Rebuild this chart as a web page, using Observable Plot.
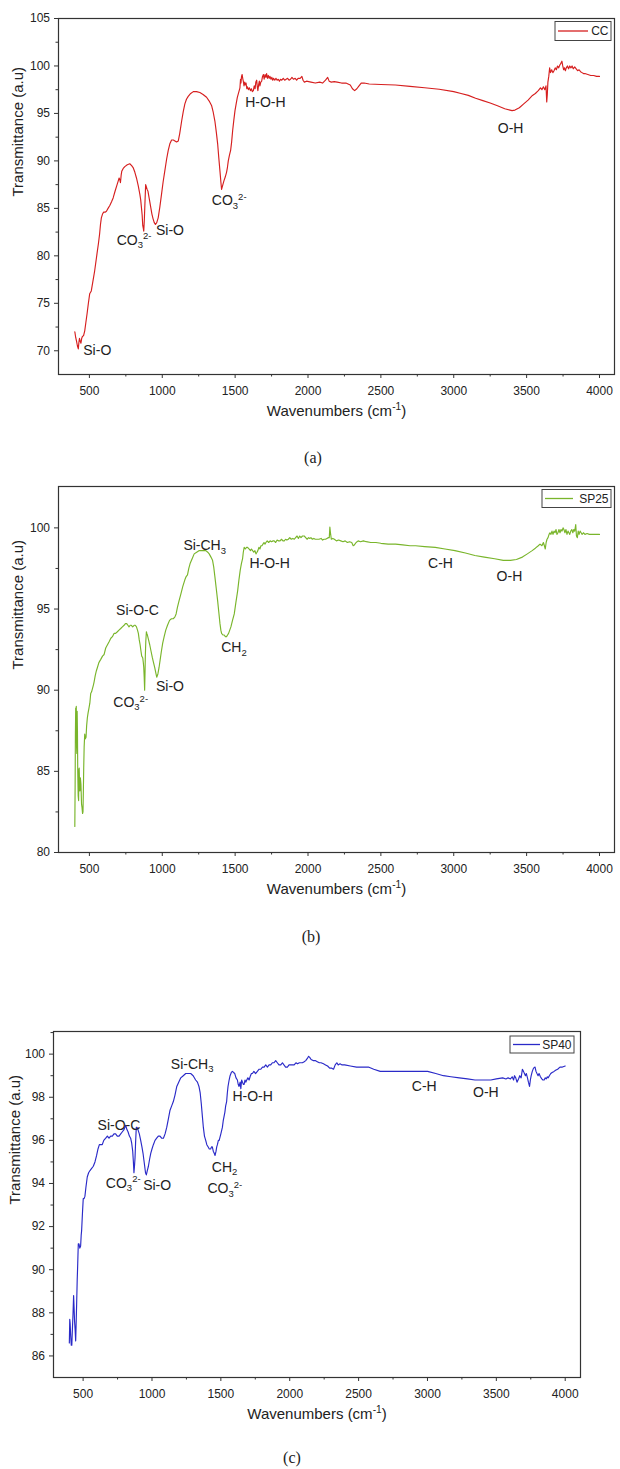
<!DOCTYPE html>
<html><head><meta charset="utf-8">
<script src="https://cdn.jsdelivr.net/npm/d3@7"></script>
<script src="https://cdn.jsdelivr.net/npm/@observablehq/plot@0.6"></script>
<style>
body{margin:0;background:#fff;}
#page{position:relative;width:620px;height:1469px;overflow:hidden;background:#fff;}
.panel{position:absolute;left:0;}
.cap{position:absolute;width:60px;text-align:center;font-family:"Liberation Serif","Times New Roman",serif;font-size:16px;line-height:16px;color:#222;}
</style></head><body><div id="page"></div>
<script>
// ---------- data ----------
const xMajor = [500,1000,1500,2000,2500,3000,3500,4000];
const xMinor = [750,1250,1750,2250,2750,3250,3750];

// (a) CC
const wnA = [400,406,412,418,424,428,432,437,442,447,452,460,468,476,484,493,502,513,524,536,552,562,570,576,582,590,598,608,617,628,640,652,663,676,690,698,704,709,713,718,722,732,743,760,777,790,800,812,823,835,846,852,857,862,866,870,873,877,881,886,890,896,902,911,921,929,937,945,953,962,972,983,995,1006,1018,1030,1041,1052,1064,1076,1087,1098,1110,1120,1133,1144,1155,1166,1178,1195,1213,1235,1258,1280,1304,1322,1339,1350,1361,1371,1380,1388,1396,1402,1407,1414,1423,1432,1441,1447,1453,1461,1469,1476,1483,1491,1499,1507,1515,1524,1533,1537,1540,1544,1548,1552,1556,1561,1566,1571,1575,1580,1585,1591,1598,1605,1612,1618,1625,1631,1637,1642,1648,1652,1656,1661,1666,1670,1676,1682,1688,1694,1699,1705,1711,1716,1722,1728,1734,1739,1746,1752,1758,1764,1772,1780,1788,1796,1804,1812,1820,1830,1840,1850,1860,1870,1880,1890,1900,1912,1922,1932,1946,1958,1966,1975,1990,2020,2050,2080,2100,2120,2135,2145,2160,2180,2200,2230,2260,2290,2305,2320,2335,2350,2365,2385,2420,2500,2600,2700,2800,2900,3000,3050,3100,3150,3200,3250,3300,3350,3400,3420,3450,3480,3510,3540,3560,3580,3595,3605,3615,3625,3633,3638,3642,3646,3652,3658,3664,3672,3680,3688,3696,3704,3712,3720,3728,3736,3742,3748,3754,3760,3766,3772,3780,3788,3796,3804,3812,3820,3830,3840,3850,3860,3870,3880,3890,3900,3920,3940,3960,3980,4000];
const tA = [72.0,71.4,71.0,70.5,70.2,70.9,71.3,71.0,70.8,71.3,71.5,71.6,72.1,73.0,73.9,75.0,76.0,76.3,77.3,78.4,80.2,81.3,82.3,83.3,84.0,84.4,84.6,84.6,84.7,85.0,85.3,85.7,86.1,86.8,87.5,87.9,88.2,88.0,87.7,88.5,88.9,89.2,89.4,89.6,89.7,89.5,89.3,88.8,88.2,87.4,86.5,85.9,85.1,84.3,83.2,82.9,82.6,83.8,85.5,87.5,87.3,87.0,86.8,86.0,85.1,84.4,83.9,83.5,83.3,83.5,84.0,85.1,86.5,87.8,89.0,90.2,91.1,91.8,92.2,92.2,92.1,92.0,92.1,92.9,94.2,95.2,96.0,96.5,96.8,97.1,97.3,97.3,97.2,97.0,96.7,96.3,95.8,95.1,94.2,93.0,91.8,90.3,88.9,87.8,87.0,87.4,87.9,88.3,88.8,89.3,90.0,90.6,91.1,92.0,93.2,94.3,95.3,96.0,96.7,97.2,97.7,98.6,98.2,98.9,99.1,98.7,98.4,97.9,98.3,98.0,98.2,97.6,97.8,97.5,97.7,97.4,97.6,97.3,97.4,97.9,97.6,98.3,98.5,97.8,97.4,98.0,98.4,97.9,98.3,98.4,98.9,99.1,98.6,99.1,98.8,99.2,98.7,99.0,98.7,98.9,98.6,98.8,98.5,98.7,98.5,98.7,98.5,98.6,98.4,98.6,98.5,98.7,98.5,98.6,98.7,98.5,98.6,98.8,98.6,98.7,98.5,98.7,98.7,98.9,98.5,98.3,98.4,98.3,98.2,98.3,98.2,98.5,98.8,98.4,98.3,98.35,98.3,98.2,98.2,98.0,97.6,97.4,97.6,97.9,98.2,98.2,98.1,98.05,98.0,97.85,97.7,97.55,97.3,97.1,96.9,96.6,96.35,96.1,95.8,95.5,95.3,95.35,95.6,96.0,96.4,96.9,97.1,97.4,97.7,97.5,97.8,97.5,97.9,96.2,97.0,98.3,98.9,99.8,99.3,99.6,99.3,99.5,99.8,99.6,100.0,99.8,100.1,100.3,100.5,100.0,99.6,99.8,99.5,99.8,100.0,99.7,100.0,99.8,100.0,99.7,99.9,99.7,99.5,99.6,99.4,99.3,99.2,99.2,99.1,99.0,99.0,98.9,98.9];

// (b) SP25
const wnB = [400,402,404,406,408,410,412,414,416,418,420,423,426,428,430,433,435,438,442,446,449,453,456,459,461,464,468,472,477,481,486,491,497,503,509,515,521,527,532,540,548,555,565,578,590,601,612,624,636,647,658,669,680,692,703,715,726,738,747,756,764,772,780,788,797,807,815,823,830,836,842,848,854,859,866,870,873,876,879,882,884,887,891,894,898,906,914,923,932,940,948,955,962,970,978,986,994,1003,1013,1024,1036,1050,1063,1075,1086,1095,1104,1115,1127,1141,1155,1164,1173,1182,1191,1205,1219,1236,1254,1276,1299,1312,1322,1334,1345,1353,1361,1370,1380,1388,1396,1402,1407,1416,1425,1433,1441,1448,1455,1463,1471,1482,1494,1505,1517,1526,1535,1543,1551,1556,1562,1570,1578,1585,1595,1605,1612,1620,1628,1636,1643,1650,1656,1663,1670,1677,1684,1691,1698,1705,1711,1720,1730,1740,1750,1760,1768,1778,1788,1798,1808,1818,1828,1837,1846,1855,1865,1875,1885,1896,1906,1915,1925,1934,1943,1952,1962,1974,1984,1994,2004,2012,2020,2030,2040,2050,2060,2075,2090,2100,2110,2120,2130,2140,2146,2150,2154,2160,2170,2181,2195,2210,2225,2240,2255,2270,2285,2300,2310,2318,2330,2344,2360,2380,2400,2430,2466,2500,2550,2601,2650,2700,2738,2800,2873,2940,3008,3080,3145,3210,3281,3340,3389,3430,3471,3505,3538,3560,3580,3592,3605,3615,3622,3628,3634,3640,3647,3654,3660,3667,3674,3681,3688,3695,3702,3708,3715,3722,3729,3736,3743,3750,3756,3763,3770,3777,3784,3790,3796,3803,3810,3817,3824,3830,3837,3842,3848,3854,3860,3867,3874,3881,3891,3900,3915,3930,3950,3975,4000];
const tB = [81.6,84.0,87.3,88.9,87.0,89.0,86.5,86.1,88.7,87.5,85.0,83.5,83.2,85.1,85.2,84.0,83.8,84.6,84.2,83.0,82.8,82.4,82.5,84.0,85.2,86.5,87.3,87.0,87.1,87.8,88.3,88.6,88.9,89.2,89.8,89.9,90.1,90.3,90.5,90.9,91.2,91.4,91.7,91.9,92.1,92.2,92.6,92.8,93.0,93.2,93.3,93.5,93.5,93.6,93.7,93.8,93.9,94.0,94.1,94.1,94.0,93.9,94.0,94.0,93.9,94.0,94.0,93.9,93.7,93.5,93.1,92.8,92.4,92.1,92.0,91.7,91.4,90.8,90.0,91.2,92.2,93.0,93.6,93.5,93.4,93.1,92.8,92.4,92.0,91.7,91.4,91.1,90.8,91.0,91.4,91.9,92.4,92.9,93.3,93.7,94.0,94.3,94.4,94.4,94.5,94.7,95.1,95.5,95.9,96.4,96.8,97.0,97.1,97.5,97.8,98.1,98.4,98.5,98.6,98.6,98.6,98.5,98.4,98.2,98.0,97.6,97.0,96.3,95.5,94.8,94.1,93.7,93.5,93.4,93.4,93.3,93.3,93.4,93.5,93.7,93.9,94.3,94.7,95.4,96.1,96.8,97.4,97.8,98.1,98.5,98.8,98.7,98.8,98.8,98.7,98.6,98.7,98.6,98.5,98.6,98.4,98.5,98.6,98.8,98.7,98.9,98.9,99.0,99.1,99.0,99.1,99.2,99.1,99.2,99.15,99.2,99.2,99.1,99.25,99.2,99.2,99.3,99.2,99.2,99.3,99.25,99.3,99.4,99.3,99.35,99.3,99.4,99.5,99.35,99.5,99.4,99.5,99.5,99.4,99.3,99.4,99.35,99.4,99.3,99.35,99.3,99.3,99.3,99.35,99.25,99.3,99.3,99.35,99.4,99.4,100.05,99.7,99.3,99.35,99.3,99.2,99.25,99.2,99.15,99.2,99.1,99.15,99.1,98.9,98.95,99.1,99.2,99.15,99.2,99.15,99.1,99.1,99.05,99.0,99.0,98.95,98.9,98.9,98.85,98.8,98.7,98.6,98.45,98.3,98.2,98.1,98.0,98.0,98.05,98.2,98.4,98.6,98.75,98.9,99.0,98.9,99.1,98.9,98.7,99.1,99.3,99.4,99.6,99.7,99.6,99.8,99.6,99.8,99.7,99.9,99.6,99.7,99.9,99.7,99.9,99.8,100.0,99.9,99.7,99.9,99.6,99.8,99.7,99.6,99.8,99.9,99.7,99.9,99.8,100.2,99.5,99.4,99.8,99.6,99.8,99.7,99.6,99.7,99.6,99.65,99.6,99.6,99.6,99.6];

// (c) SP40
const wnC = [400,403,406,410,414,418,422,427,431,434,438,442,446,449,453,457,461,465,470,476,482,486,489,495,501,507,513,520,530,540,550,562,574,586,598,608,618,628,639,650,664,676,688,700,712,724,736,748,761,773,785,797,809,818,826,836,845,852,860,865,869,873,877,881,886,892,898,908,918,927,935,941,947,953,959,966,974,982,991,1000,1010,1022,1034,1046,1058,1070,1083,1095,1107,1119,1131,1143,1155,1167,1180,1194,1209,1227,1245,1263,1281,1299,1317,1330,1341,1350,1358,1366,1373,1381,1390,1398,1407,1416,1426,1432,1438,1445,1452,1458,1465,1470,1475,1482,1488,1492,1500,1511,1517,1523,1529,1535,1542,1547,1552,1560,1567,1576,1584,1592,1601,1610,1620,1626,1632,1640,1645,1651,1657,1663,1669,1675,1681,1688,1696,1705,1715,1722,1729,1740,1752,1765,1778,1790,1802,1814,1826,1838,1850,1862,1874,1886,1898,1910,1922,1935,1947,1958,1970,1983,1995,2008,2020,2032,2045,2057,2070,2080,2092,2105,2116,2128,2137,2145,2155,2170,2185,2200,2215,2227,2245,2260,2275,2290,2305,2318,2330,2342,2352,2365,2380,2399,2440,2485,2530,2571,2610,2657,2700,2772,2850,2915,3001,3060,3116,3170,3231,3290,3345,3400,3460,3500,3546,3570,3585,3603,3615,3625,3632,3641,3650,3661,3670,3680,3689,3697,3704,3711,3718,3726,3733,3741,3747,3753,3761,3770,3781,3788,3795,3803,3810,3820,3830,3838,3847,3855,3862,3870,3876,3885,3895,3905,3919,3930,3945,3962,3980,4000];
const tC = [86.6,87.7,87.5,86.9,86.5,86.5,87.2,88.0,88.8,88.3,87.6,87.2,86.7,87.4,88.4,89.5,90.3,91.2,91.2,91.0,91.1,91.6,91.8,92.6,93.3,93.3,93.4,93.8,94.3,94.5,94.6,94.7,94.8,95.0,95.3,95.6,95.8,95.8,95.8,96.0,96.1,96.2,96.1,96.2,96.2,96.3,96.3,96.2,96.2,96.3,96.4,96.5,96.7,96.5,96.4,96.2,96.1,95.9,95.5,95.0,94.5,94.8,95.2,95.9,96.6,96.6,96.5,96.3,96.0,95.7,95.4,95.1,94.8,94.5,94.4,94.6,94.8,95.1,95.4,95.6,95.8,96.0,96.1,96.2,96.2,96.1,96.1,96.3,96.6,97.0,97.4,97.6,97.8,98.1,98.5,98.7,98.9,99.0,99.1,99.1,99.1,99.0,98.8,98.7,98.5,98.2,97.7,97.1,96.6,96.2,96.0,95.8,95.7,95.6,95.6,95.7,95.7,95.5,95.4,95.3,95.5,95.7,95.8,96.0,96.0,96.1,96.3,96.6,96.9,97.1,97.3,97.6,97.8,98.2,98.5,98.8,99.0,99.15,99.2,99.15,99.1,98.9,98.8,98.6,98.5,98.7,98.4,98.8,98.7,98.6,98.6,98.8,98.7,98.8,98.9,98.8,99.0,99.1,99.1,99.2,99.1,99.2,99.3,99.3,99.4,99.4,99.5,99.4,99.5,99.5,99.6,99.6,99.7,99.6,99.5,99.5,99.6,99.5,99.4,99.4,99.5,99.5,99.5,99.5,99.6,99.55,99.6,99.6,99.6,99.65,99.7,99.8,99.9,99.85,99.75,99.7,99.7,99.65,99.6,99.6,99.55,99.5,99.45,99.35,99.35,99.3,99.5,99.6,99.5,99.55,99.5,99.5,99.45,99.4,99.4,99.4,99.3,99.2,99.2,99.2,99.2,99.2,99.2,99.1,99.0,98.95,98.9,98.85,98.8,98.8,98.8,98.85,98.9,98.85,98.9,98.85,98.95,98.8,99.0,98.9,98.7,98.85,99.0,98.9,99.3,99.2,99.1,99.0,99.1,98.9,98.7,98.5,98.8,99.0,99.2,99.35,99.4,99.2,99.1,99.0,99.1,98.95,98.85,98.8,98.8,98.9,98.85,98.95,98.9,99.0,99.1,99.15,99.2,99.25,99.3,99.4,99.4,99.45];

// peak labels
const labA = ["Si-O","CO_{3}^{2-}","Si-O","CO_{3}^{2-}","H-O-H","O-H"];
const labAx = [458,687,957,1340,1569,3302];
const labAy = [70.0,81.65,82.7,85.8,96.2,93.4];
const labB = ["Si-O-C","CO_{3}^{2-}","Si-O","Si-CH_{3}","CH_{2}","H-O-H","C-H","O-H"];
const labBx = [683,664,957,1145,1404,1598,2824,3294];
const labBy = [94.9,89.25,90.2,98.9,92.6,97.8,97.8,97.0];
const labC = ["Si-O-C","CO_{3}^{2-}","Si-O","Si-CH_{3}","CH_{2}","CO_{3}^{2-}","H-O-H","C-H","O-H"];
const labCx = [605,665,936,1137,1434,1403,1584,2886,3331];
const labCy = [96.69,94.02,93.91,99.54,94.76,93.76,98.03,98.5,98.23];

// ---------- drawing ----------
const page = document.getElementById("page");

function legendMark(o) {
  return (index, scales, values, dims) => {
    const g = d3.create("svg:g");
    const right = dims.width - dims.marginRight - o.lgR;
    const top = dims.marginTop + o.lgT;
    const x0 = right - o.lgW;
    g.append("rect").attr("x", x0).attr("y", top).attr("width", o.lgW).attr("height", o.lgH)
      .attr("fill", "white").attr("stroke", "#444").attr("stroke-width", 1);
    g.append("line").attr("x1", x0 + 3).attr("x2", x0 + 3 + o.lgL)
      .attr("y1", top + o.lgH / 2).attr("y2", top + o.lgH / 2)
      .attr("stroke", o.color).attr("stroke-width", 1.3);
    g.append("text").attr("x", right - 2.5).attr("y", top + o.lgH / 2).attr("dy", "0.36em")
      .attr("text-anchor", "end").attr("font-size", 12).attr("fill", "#222").text(o.name);
    return g.node();
  };
}

// turn "_{..}" / "^{..}" markup into real subscript / superscript tspans
function richify(svg) {
  svg.querySelectorAll("text").forEach(t => {
    const s = t.textContent;
    if (!/[_^]\{/.test(s)) return;
    const fs = parseFloat(getComputedStyle(t).fontSize) || 14;
    const re = /([_^])\{([^}]*)\}|([^_^]+)/g;
    let m, cur = 0;
    while (t.firstChild) t.removeChild(t.firstChild);
    while ((m = re.exec(s))) {
      const ts = document.createElementNS("http://www.w3.org/2000/svg", "tspan");
      let off = 0, txt = m[3];
      if (m[1]) {
        off = m[1] === "_" ? 0.26 * fs : -0.38 * fs;
        txt = m[2];
        ts.setAttribute("font-size", (0.68 * fs).toFixed(1));
      }
      ts.setAttribute("dy", (off - cur).toFixed(2));
      cur = off;
      ts.textContent = txt;
      t.appendChild(ts);
    }
  });
}

function panel(o) {
  const data = o.wn.map((w, i) => ({w, t: o.t[i]}));
  const ann = o.lab.map((l, i) => ({l, x: o.lx[i], y: o.ly[i]}));
  const svg = Plot.plot({
    width: 620, height: o.height,
    marginLeft: o.ml, marginRight: o.mr, marginTop: o.mt, marginBottom: o.mb,
    style: {fontFamily: "'Liberation Sans', Arial, sans-serif", fontSize: "12px", color: "#222", background: "white", overflow: "visible"},
    x: {domain: o.xd},
    y: {domain: o.yd},
    marks: [
      Plot.line(data, {x: "w", y: "t", stroke: o.color, strokeWidth: 1.15}),
      Plot.frame({stroke: "#333", strokeWidth: 1.2}),
      Plot.axisX({ticks: xMajor, tickSize: 4, tickPadding: 8, tickFormat: d => `${d}`, label: null, fontSize: 12, stroke: "#333"}),
      Plot.axisX({ticks: xMinor, tickSize: 2.5, text: null, label: null, stroke: "#333"}),
      Plot.axisY({ticks: o.yMajor, tickSize: 4, tickPadding: 4.5, tickFormat: d => `${d}`, label: null, fontSize: 12, stroke: "#333"}),
      Plot.axisY({ticks: o.yMinor, tickSize: 2.5, text: null, label: null, stroke: "#333"}),
      Plot.text(ann, {x: "x", y: "y", text: "l", textAnchor: "start", fontSize: 14, fill: "#222"}),
      Plot.text(["Wavenumbers (cm^{-1})"], {frameAnchor: "bottom", dy: 41, fontSize: 15, fill: "#222"}),
      Plot.text(["Transmittance (a.u)"], {frameAnchor: "left", dx: -o.lo, rotate: -90, lineAnchor: "top", fontSize: 15, fill: "#222"}),
      legendMark(o)
    ]
  });
  const div = document.createElement("div");
  div.className = "panel";
  div.style.top = o.top + "px";
  div.appendChild(svg);
  page.appendChild(div);
  richify(svg);
  const cap = document.createElement("div");
  cap.className = "cap";
  cap.style.left = (o.capX - 30) + "px";
  cap.style.top = (o.capY - 8) + "px";
  cap.textContent = o.cap;
  page.appendChild(cap);
}

panel({top: 0, height: 430, ml: 58, mr: 6, mt: 18, mb: 56, lo: 46,
  xd: [288, 4103], yd: [67.5, 105],
  yMajor: [70,75,80,85,90,95,100,105], yMinor: [72.5,77.5,82.5,87.5,92.5,97.5,102.5],
  wn: wnA, t: tA, lab: labA, lx: labAx, ly: labAy, color: "#d61f1f",
  name: "CC", lgW: 56, lgH: 19, lgR: 3, lgT: 3.5, lgL: 30,
  cap: "(a)", capX: 313, capY: 458});

panel({top: 470, height: 440, ml: 58, mr: 6, mt: 16, mb: 58, lo: 46,
  xd: [288, 4103], yd: [80, 102.55],
  yMajor: [80,85,90,95,100], yMinor: [82.5,87.5,92.5,97.5],
  wn: wnB, t: tB, lab: labB, lx: labBx, ly: labBy, color: "#79b52b",
  name: "SP25", lgW: 69, lgH: 18, lgR: 3, lgT: 3.5, lgL: 28,
  cap: "(b)", capX: 311, capY: 937});

panel({top: 1010, height: 420, ml: 53, mr: 40, mt: 21, mb: 53, lo: 44,
  xd: [285, 4111], yd: [85, 101.05],
  yMajor: [86,88,90,92,94,96,98,100], yMinor: [87,89,91,93,95,97,99,101],
  wn: wnC, t: tC, lab: labC, lx: labCx, ly: labCy, color: "#2a2ac8",
  name: "SP40", lgW: 64, lgH: 17, lgR: 6, lgT: 5, lgL: 27,
  cap: "(c)", capX: 292, capY: 1458});
</script>
</body></html>
